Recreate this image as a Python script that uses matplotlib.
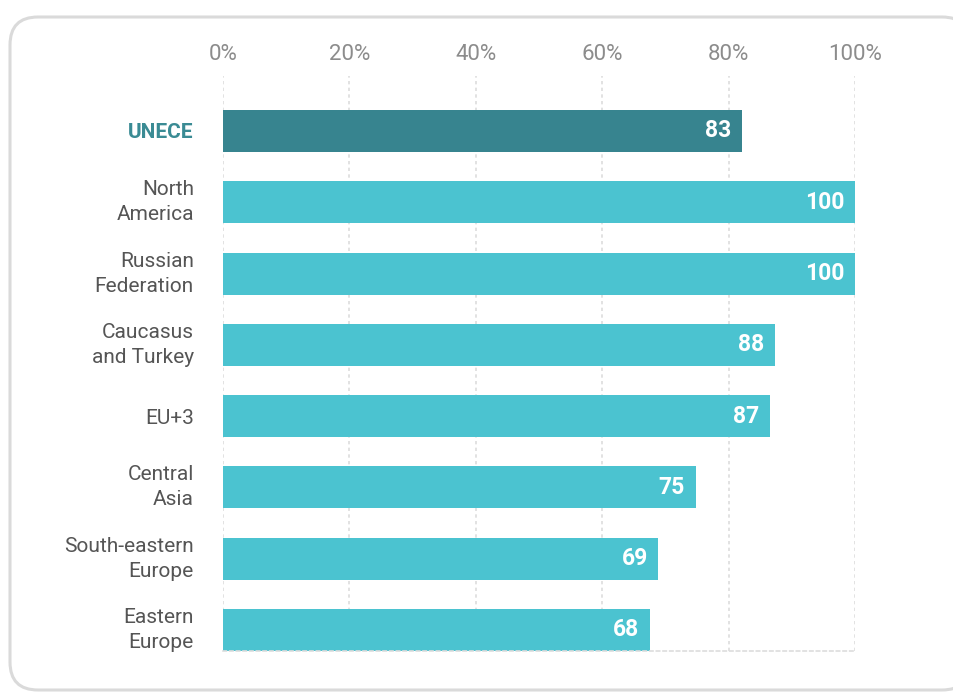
import matplotlib.pyplot as plt
import matplotlib.transforms as mtransforms
from matplotlib.patches import FancyBboxPatch
import numpy as np

# dados
regioes = ["UNECE", "North\nAmerica", "Russian\nFederation", "Caucasus\nand Turkey",
           "EU+3", "Central\nAsia", "South-eastern\nEurope", "Eastern\nEurope"]
valores = [82.1, 100, 100, 87.3, 86.5, 74.8, 68.9, 67.6]
rotulos = ["83", "100", "100", "88", "87", "75", "69", "68"]
ticks = [0, 20, 40, 60, 80, 100]
tick_labels = ["0%", "20%", "40%", "60%", "80%", "100%"]

cor_destaque = "#37848F"
cor_barra = "#4BC3D0"
cor_grade = "#DDDDDD"

plt.rcParams['font.family'] = ['Roboto', 'DejaVu Sans']

fig = plt.figure(figsize=(9.54, 6.93), dpi=100)

# moldura arredondada (em pixels)
moldura = FancyBboxPatch((10, 3), 960, 673,
                         boxstyle="round,pad=0,rounding_size=28",
                         transform=None, facecolor="white",
                         edgecolor="#DADADA", linewidth=2.2, zorder=-1)
fig.patches.append(moldura)

ax = fig.add_axes([223 / 954, 42 / 693, (855 - 223) / 954, (651 - 76) / 693])
ax.set_facecolor("none")

y = np.arange(len(regioes))
cores = [cor_destaque] + [cor_barra] * (len(regioes) - 1)
barras = ax.barh(y, valores, height=0.59, color=cores, zorder=2)

ax.set_xlim(0, 100)
ax.set_ylim(7.295, -0.771)

ax.xaxis.tick_top()
ax.set_xticks(ticks)
ax.set_xticklabels(tick_labels, fontsize=16, color="#8C8C8C")
ax.tick_params(axis="x", length=0, pad=8)
ax.grid(axis="x", color=cor_grade, linestyle=(0, (2, 2)), linewidth=1.2, zorder=0)

ax.set_yticks(y)
ax.set_yticklabels(regioes, fontsize=15, color="#555555", linespacing=1.4)
ax.tick_params(axis="y", length=0, pad=21)
sobe = mtransforms.ScaledTranslation(0, 5 / 100, fig.dpi_scale_trans)
for lbl in ax.get_yticklabels():
    if "\n" in lbl.get_text():
        lbl.set_transform(lbl.get_transform() + sobe)
rot = ax.get_yticklabels()[0]
rot.set_color("#3A8B94")
rot.set_fontweight("bold")

for lado in ["top", "right", "left"]:
    ax.spines[lado].set_visible(False)
ax.spines["bottom"].set_color(cor_grade)
ax.spines["bottom"].set_linestyle((0, (2, 2)))
ax.spines["bottom"].set_linewidth(1.2)

for barra, v, r in zip(barras, valores, rotulos):
    ax.text(v - 1.7, barra.get_y() + barra.get_height() / 2, r,
            ha="right", va="center", color="white", fontsize=16.5,
            fontweight="bold", zorder=3)

plt.savefig("out.png", dpi=100)
